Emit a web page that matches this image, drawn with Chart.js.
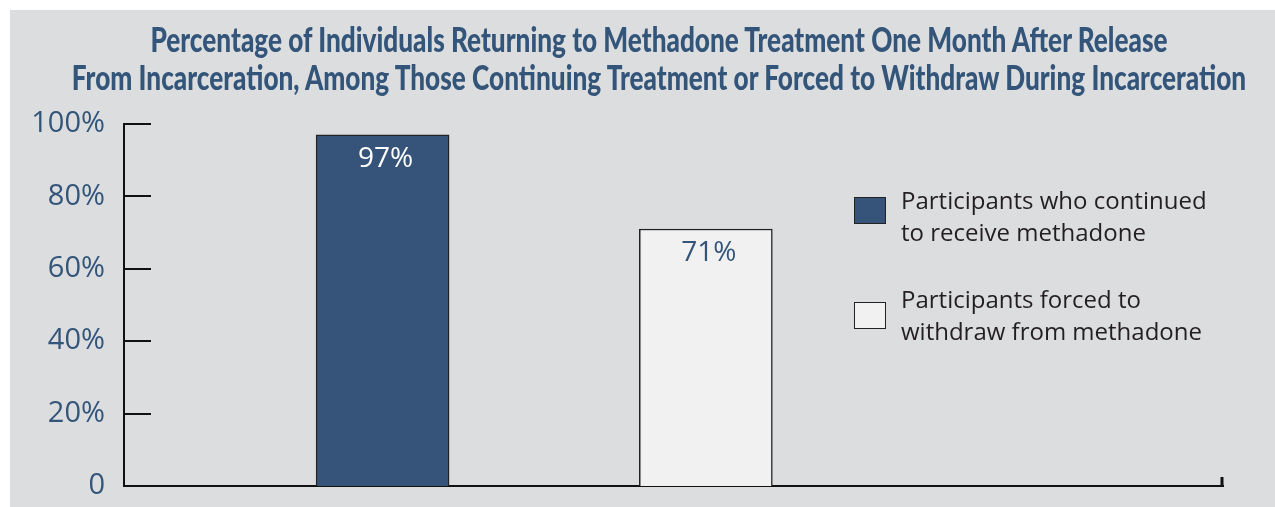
<!DOCTYPE html>
<html><head><meta charset="utf-8">
<script src="https://cdn.jsdelivr.net/npm/chart.js@4.4.1/dist/chart.umd.min.js"></script>
<style>
html,body{margin:0;padding:0;background:#fff;width:1275px;height:507px;overflow:hidden}
#bg{position:absolute;left:10px;top:10px;right:0;bottom:0;background:#dcdddf}
#c{position:absolute;left:0;top:0}
.t{position:absolute;left:659px;white-space:nowrap;font-family:Lato;font-weight:900;font-size:35px;line-height:40px;color:#34557a;transform-origin:50% 50%}
.lg{position:absolute;left:901px;font-family:"Open Sans";font-size:24px;line-height:32px;color:#231f20;white-space:nowrap}
.sw{position:absolute;left:854px;width:32px;height:27px;box-sizing:border-box;border:1.5px solid #222}
</style></head>
<body>
<div id="bg"></div>
<canvas id="c" width="1275" height="507"></canvas>
<div id="overlay"></div>
<script>
// ---- data ----
const titleLines = [
  'Percentage of Individuals Returning to Methadone Treatment One Month After Release',
  'From Incarceration, Among Those Continuing Treatment or Forced to Withdraw During Incarceration'
];
const categories = ['Participants who continued to receive methadone', 'Participants forced to withdraw from methadone'];
const legendLines = [['Participants who continued', 'to receive methadone'], ['Participants forced to', 'withdraw from methadone']];
const values = [97, 71];
const valueLabels = ['97%', '71%'];
const yTickValues = [0, 20, 40, 60, 80, 100];
const yTickLabels = ['0', '20%', '40%', '60%', '80%', '100%'];

// ---- styles / layout ----
const NAVY = '#36547a', LIGHT = '#f1f1f1', TEXT_BLUE = '#34557a';
const barColors = [NAVY, LIGHT];
const labelColors = ['#ffffff', TEXT_BLUE];
const SLOTS = 18, SLOT_AT = [4, 9];

// title
const ov = document.getElementById('overlay');
const titleTops = [18, 56];
const titleEls = titleLines.map((txt, i) => {
  const d = document.createElement('div'); d.className = 't'; d.style.top = titleTops[i] + 'px';
  d.textContent = txt; ov.appendChild(d); return d;
});
const k = 1174 / titleEls[1].offsetWidth;
titleEls.forEach(d => d.style.transform = 'translateX(-50%) scaleX(' + k + ')');

// legend
const legendTops = [184, 283], swatchTops = [197, 302];
legendLines.forEach((lines, i) => {
  const sw = document.createElement('div'); sw.className = 'sw';
  sw.style.top = swatchTops[i] + 'px'; sw.style.background = barColors[i]; ov.appendChild(sw);
  const t = document.createElement('div'); t.className = 'lg'; t.style.top = legendTops[i] + 'px';
  t.innerHTML = lines.join('<br>'); ov.appendChild(t);
});

// chart
const labels = Array.from({length: SLOTS}, (_, i) => { const j = SLOT_AT.indexOf(i); return j >= 0 ? categories[j] : ''; });
const data = labels.map((_, i) => { const j = SLOT_AT.indexOf(i); return j >= 0 ? values[j] : null; });
const colors = labels.map((_, i) => { const j = SLOT_AT.indexOf(i); return j >= 0 ? barColors[j] : 'transparent'; });

const decor = {
  id: 'decor',
  afterDraw(chart) {
    const {ctx, chartArea: a, scales: {y}} = chart;
    ctx.save();
    ctx.strokeStyle = '#111'; ctx.lineWidth = 2;
    y.ticks.forEach((t, i) => {
      const py = Math.round(y.getPixelForTick(i));
      ctx.beginPath(); ctx.moveTo(a.left, py); ctx.lineTo(a.left + 27, py); ctx.stroke();
    });
    ctx.lineWidth = 3;
    ctx.beginPath(); ctx.moveTo(a.right - 1, a.bottom + 1); ctx.lineTo(a.right - 1, a.bottom - 9); ctx.stroke();
    const meta = chart.getDatasetMeta(0);
    ctx.font = '28px "Open Sans"'; ctx.textAlign = 'center'; ctx.textBaseline = 'middle';
    SLOT_AT.forEach((slot, j) => {
      const el = meta.data[slot];
      ctx.fillStyle = labelColors[j];
      ctx.fillText(valueLabels[j], el.x + 3, el.y + 24);
    });
    ctx.restore();
  }
};

new Chart(document.getElementById('c'), {
  type: 'bar',
  data: { labels, datasets: [{ data, backgroundColor: colors, borderColor: '#222', borderWidth: 1.5, barThickness: 133 }] },
  options: {
    responsive: false, animation: false, devicePixelRatio: 1,
    layout: { padding: { top: 124, right: 52, left: 0, bottom: 0 } },
    plugins: { legend: { display: false }, tooltip: { enabled: false }, title: { display: false } },
    scales: {
      x: {
        offset: false,
        grid: { display: false },
        ticks: { display: false },
        border: { display: true, color: '#111', width: 2 },
        afterFit(s) { s.height = 21; s.paddingLeft = 0; s.paddingRight = 0; }
      },
      y: {
        min: 0, max: 100,
        afterBuildTicks(s) { s.ticks = yTickValues.map(v => ({ value: v })); },
        grid: { display: false, drawTicks: false },
        border: { display: true, color: '#111', width: 2 },
        ticks: {
          padding: 19, color: TEXT_BLUE, font: { family: 'Open Sans', size: 29 },
          callback: v => yTickLabels[yTickValues.indexOf(v)]
        },
        afterFit(s) { s.width = 124; s.paddingTop = 0; s.paddingBottom = 0; }
      }
    }
  },
  plugins: [decor]
});
</script>
</body></html>
